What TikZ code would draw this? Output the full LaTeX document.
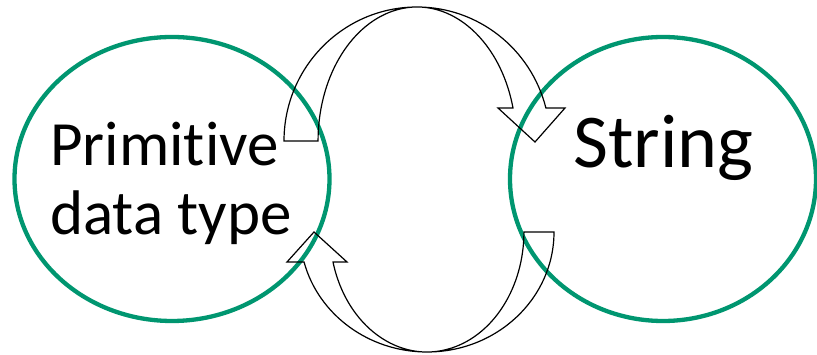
\documentclass[tikz,border=0pt]{standalone}
\usepackage{fontspec}
\setmainfont{Carlito}[Ligatures=NoCommon]
\usetikzlibrary{shapes.geometric}
\definecolor{ringgreen}{RGB}{0,150,112}

\begin{document}
\begin{tikzpicture}[x=1pt,y=1pt,
    ring/.style={ellipse,draw=ringgreen,line width=4.3pt,inner sep=0pt},
    word/.style={inner sep=0pt,anchor=base west},
    loopband/.style={draw=black,line width=1.2pt,line join=miter}]
    \useasboundingbox (0,0) rectangle (817,355);
    % the two rings
    \node[ring,minimum width=315,minimum height=284] (prim) at (172,176) {};
    \node[ring,minimum width=306,minimum height=284] (str) at (663,176) {};
    % their words
    \node[word,font=\fontsize{63}{69}\selectfont] (primA) at (50,189) {Primitive};
    \node[word,font=\fontsize{63}{69}\selectfont] (primB) at (50,120) {data type};
    \node[word,font=\fontsize{76}{84}\selectfont] (strA) at (573,187) {String};
    % upper curved arrow, primitive to string
    \coordinate (topc) at (417,214);
    \draw[loopband] ([xshift=-133pt]topc) arc[start angle=180,end angle=14.26,x radius=133,y radius=134]
        -- (565,247) -- (535,213) -- (498,247)
        -- (513,247) arc[start angle=14.26,end angle=180,x radius=99,y radius=134] -- cycle;
    % lower curved arrow, string to primitive
    \coordinate (botc) at (427,123);
    \draw[loopband] ([xshift=127pt]botc) arc[start angle=0,end angle=-165.52,x radius=127,y radius=120]
        -- (287,93) -- (314,123) -- (347,93)
        -- (333,93) arc[start angle=-165.52,end angle=0,x radius=97,y radius=120] -- cycle;
\end{tikzpicture}
\end{document}
